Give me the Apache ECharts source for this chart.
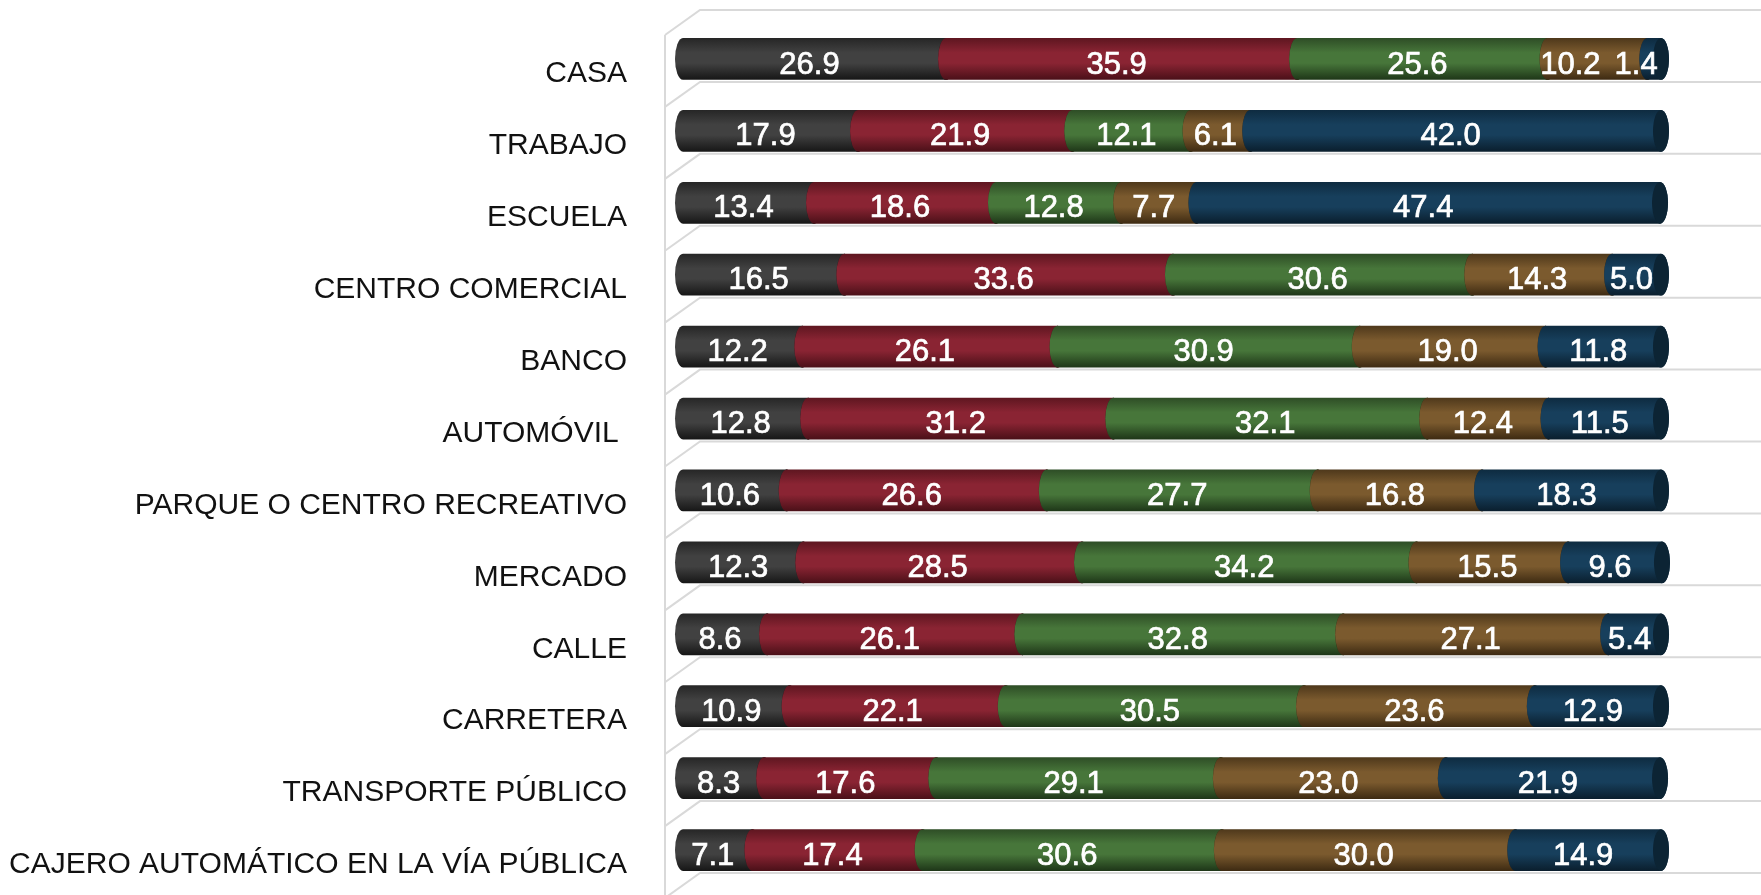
<!DOCTYPE html>
<html><head><meta charset="utf-8">
<script src="https://cdn.jsdelivr.net/npm/echarts@6/dist/echarts.min.js"></script>
<style>html,body{margin:0;padding:0;background:#fff}#c{width:1761px;height:895px}</style>
</head><body><div id="c"></div>
<script>
const categories = ['CASA','TRABAJO','ESCUELA','CENTRO COMERCIAL','BANCO','AUTOMÓVIL ','PARQUE O CENTRO RECREATIVO','MERCADO','CALLE','CARRETERA','TRANSPORTE PÚBLICO','CAJERO AUTOMÁTICO EN LA VÍA PÚBLICA'];
const serie1 = [26.9,17.9,13.4,16.5,12.2,12.8,10.6,12.3,8.6,10.9,8.3,7.1];
const serie2 = [35.9,21.9,18.6,33.6,26.1,31.2,26.6,28.5,26.1,22.1,17.6,17.4];
const serie3 = [25.6,12.1,12.8,30.6,30.9,32.1,27.7,34.2,32.8,30.5,29.1,30.6];
const serie4 = [10.2,6.1,7.7,14.3,19.0,12.4,16.8,15.5,27.1,23.6,23.0,30.0];
const serie5 = [1.4,42.0,47.4,5.0,11.8,11.5,18.3,9.6,5.4,12.9,21.9,14.9];
const seriesList = [serie1, serie2, serie3, serie4, serie5];
const seriesNames = ['Serie 1','Serie 2','Serie 3','Serie 4','Serie 5'];

const palettes = [
  {top:'#262626', mid:'#414141', bot:'#161616', cap:'#1e1e1e'},
  {top:'#5e1620', mid:'#8a2433', bot:'#4a1018', cap:'#4a1018'},
  {top:'#2e4d26', mid:'#47763a', bot:'#1e3618', cap:'#1e3618'},
  {top:'#4e381b', mid:'#7b5a2e', bot:'#3d2a12', cap:'#3d2a12'},
  {top:'#0e2b40', mid:'#173f5c', bot:'#0a1e2d', cap:'#0c2434'}
];
// label nudges for crowded segments (series index, category index) -> x offset
const labelNudge = {'3_0': -22, '4_0': -13};

const chart = echarts.init(document.getElementById('c'));

function makeSeries(si) {
  const data = [];
  for (let ci = 0; ci < categories.length; ci++) {
    let start = 0;
    for (let k = 0; k < si; k++) start += seriesList[k][ci];
    const v = seriesList[si][ci];
    data.push([start, start + v, ci, v]);
  }
  const pal = palettes[si];
  return {
    type: 'custom', name: seriesNames[si], coordinateSystem: 'cartesian2d',
    encode: {x: [0, 1], y: 2}, z: 3 + si,
    data: data,
    renderItem: function (params, api) {
      const s = api.value(0), e = api.value(1), ci = api.value(2), v = api.value(3);
      const p0 = api.coord([s, ci]), p1 = api.coord([e, ci]);
      const band = api.size([0, 1])[1];
      const hh = band * 0.29, rx = 8, yc = p0[1];
      const x0 = p0[0], x1 = p1[0];
      const grad = new echarts.graphic.LinearGradient(0, 0, 0, 1, [
        {offset: 0, color: pal.top}, {offset: 0.35, color: pal.mid},
        {offset: 0.6, color: pal.mid}, {offset: 1, color: pal.bot}
      ]);
      const path = 'M' + x0 + ',' + (yc - hh) + ' L' + x1 + ',' + (yc - hh) +
        ' A' + rx + ',' + hh + ' 0 0 1 ' + x1 + ',' + (yc + hh) +
        ' L' + x0 + ',' + (yc + hh) +
        ' A' + rx + ',' + hh + ' 0 0 1 ' + x0 + ',' + (yc - hh) + ' Z';
      const nudge = (labelNudge[si + '_' + ci] || 0) - 5;
      return {
        type: 'group', children: [
          {type: 'path', shape: {pathData: path}, style: {fill: grad}},
          {type: 'ellipse', shape: {cx: x1, cy: yc, rx: rx, ry: hh}, style: {fill: pal.cap}},
          {type: 'text', z2: 10, style: {text: v.toFixed(1), x: (x0 + x1) / 2 + nudge, y: yc + 6,
            fill: '#ffffff', stroke: '#ffffff', lineWidth: 0.7,
            font: '31px "Liberation Sans", Arial, sans-serif', align: 'center', verticalAlign: 'middle'}}
        ]
      };
    }
  };
}

const boundaries = [];
for (let k = 0; k <= categories.length; k++) boundaries.push([0, Math.min(k, categories.length - 1), k]);

const floorSeries = {
  type: 'custom', name: 'floor', coordinateSystem: 'cartesian2d', silent: true, z: 1,
  encode: {x: 0, y: 1},
  data: boundaries,
  renderItem: function (params, api) {
    const k = api.value(2), ci = api.value(1);
    const p = api.coord([0, ci]);
    const band = api.size([0, 1])[1];
    const yb = k < categories.length ? p[1] - band / 2 : p[1] + band / 2;
    const xw = p[0] - 18, xb = p[0] + 17, xr = api.getWidth();
    const lineStyle = {stroke: '#d9d9d9', lineWidth: 2, fill: null};
    const children = [
      {type: 'polyline', shape: {points: [[xw, yb + 12], [xb, yb - 13], [xr, yb - 13]]}, style: lineStyle}
    ];
    if (k === 0) {
      children.push({type: 'line', shape: {x1: xw, y1: yb + 12, x2: xw, y2: api.getHeight()}, style: lineStyle});
    }
    return {type: 'group', children: children};
  }
};

const option = {
  backgroundColor: '#ffffff',
  animation: false,
  grid: {left: 683, right: 100, top: 23, bottom: 9, containLabel: false},
  xAxis: {type: 'value', min: 0, max: 100, show: false},
  yAxis: {
    type: 'category', data: categories, inverse: true,
    axisLine: {show: false}, axisTick: {show: false}, splitLine: {show: false},
    axisLabel: {margin: 56, color: '#111111', fontSize: 30, fontFamily: '"Liberation Sans", Arial, sans-serif',
      verticalAlign: 'top', lineHeight: 30}
  },
  series: [floorSeries].concat(seriesList.map((_, i) => makeSeries(i)))
};
chart.setOption(option);
</script></body></html>
